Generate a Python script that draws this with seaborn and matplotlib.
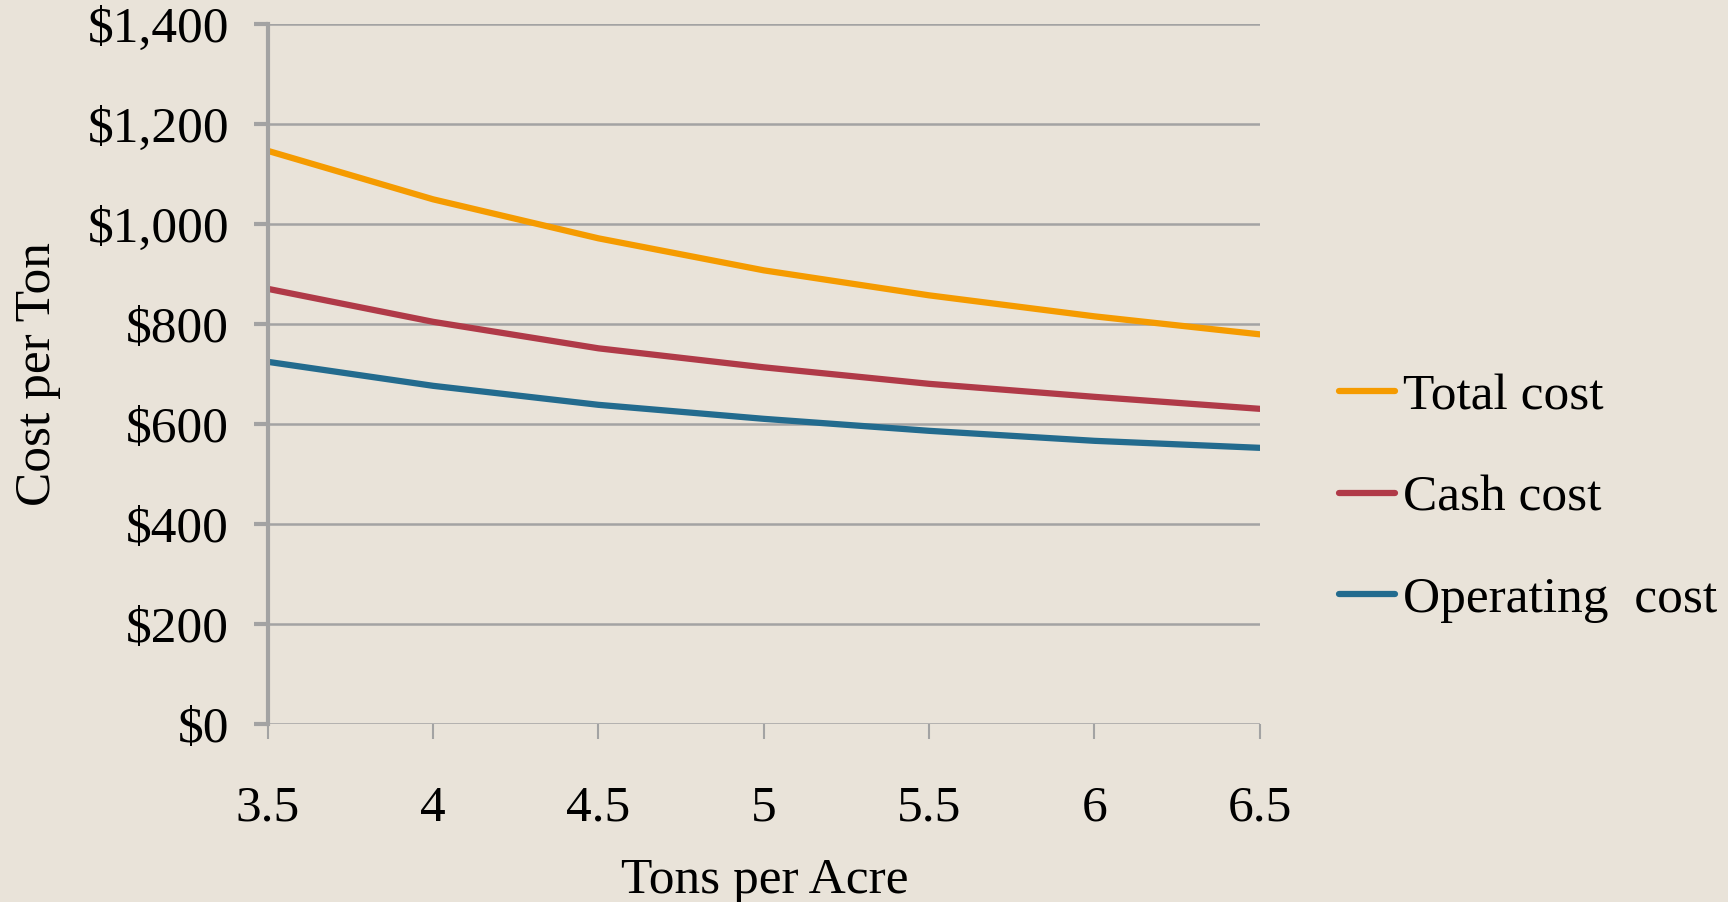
import matplotlib
matplotlib.use("Agg")
import matplotlib.pyplot as plt
import seaborn as sns
import pandas as pd

# values
tons_per_acre = [3.5, 4, 4.5, 5, 5.5, 6, 6.5]
total_cost = [1147, 1050, 972, 908, 858, 816, 780]
cash_cost = [871, 805, 752, 714, 681, 655, 631]
operating_cost = [725, 677, 639, 611, 587, 567, 553]
series_names = ["Total cost", "Cash cost", "Operating  cost"]
y_ticks = [0, 200, 400, 600, 800, 1000, 1200, 1400]

bg = "#E9E3D9"
grid_gray = "#A3A3A3"
colors = ["#F59B00", "#B03A48", "#236B8E"]

df = pd.DataFrame({
    "Tons per Acre": tons_per_acre * 3,
    "Cost": total_cost + cash_cost + operating_cost,
    "Series": [series_names[0]] * 7 + [series_names[1]] * 7 + [series_names[2]] * 7,
})

sns.set_theme(style="white")
plt.rcParams["font.family"] = ["Liberation Serif", "DejaVu Serif"]
plt.rcParams["text.color"] = "black"

fs = 37

fig = plt.figure(figsize=(17.28, 9.02), dpi=100, facecolor=bg)
ax = fig.add_axes([0.155, 0.197, 0.574, 0.776])
ax.set_facecolor(bg)

sns.lineplot(data=df, x="Tons per Acre", y="Cost", hue="Series",
             palette=colors, linewidth=4.5, ax=ax, legend=True)

ax.set_xlim(3.5, 6.5)
ax.set_ylim(0, 1400)
ax.set_xticks(tons_per_acre)
ax.set_xticklabels([f"{t:g}" for t in tons_per_acre])
ax.set_yticks(y_ticks)
ax.set_yticklabels([f"${v:,}" for v in y_ticks])

for y in y_ticks:
    ax.axhline(y, color=grid_gray, lw=1.8, zorder=0)

for s in ["top", "right", "bottom"]:
    ax.spines[s].set_visible(False)
ax.spines["left"].set_color(grid_gray)
ax.spines["left"].set_linewidth(3)

ax.tick_params(axis="y", which="major", left=True, length=10, width=3,
               color=grid_gray, pad=18, labelsize=fs, labelcolor="black")
ax.tick_params(axis="x", which="major", bottom=True, length=11, width=1.5,
               color=grid_gray, pad=33, labelsize=fs, labelcolor="black")

ax.set_xlabel("Tons per Acre", fontsize=fs, color="black")
ax.set_ylabel("Cost per Ton", fontsize=fs, color="black")
ax.xaxis.set_label_coords(0.501, -0.19)
ax.yaxis.set_label_coords(-0.209, 0.5)

leg = ax.legend(loc="center left", bbox_to_anchor=(1.059, 0.323), frameon=False,
                fontsize=fs, handlelength=1.1, handletextpad=0.15,
                labelspacing=1.06, borderaxespad=0)
for line in leg.get_lines():
    line.set_linewidth(4.5)
    line.set_solid_capstyle("round")
for t in leg.get_texts():
    t.set_color("black")

fig.savefig("out.png", dpi=100, facecolor=bg)
